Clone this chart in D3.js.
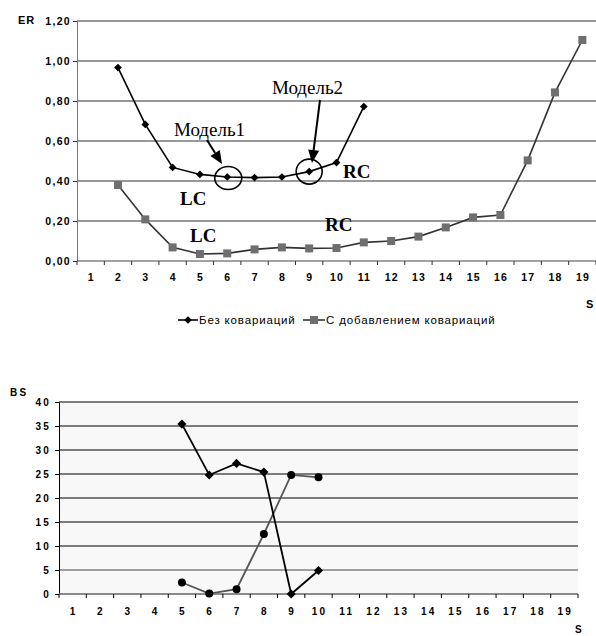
<!DOCTYPE html>
<html>
<head>
<meta charset="utf-8">
<script src="https://cdn.jsdelivr.net/npm/d3@7"></script>
<style>
  html, body { margin: 0; padding: 0; background: #fff; }
  svg { display: block; }
  .tick text { font-family: Arial, "Liberation Sans", sans-serif; font-weight: bold; fill: #000; }
</style>
</head>
<body>
<svg id="chart" width="596" height="636"></svg>
<script>
// ---- Data ----
const sValues = d3.range(1, 20);                    // S = 1..19

// Top chart: ER
const erNoCovS   = [2, 3, 4, 5, 6, 7, 8, 9, 10, 11];
const erNoCov    = [0.967, 0.683, 0.468, 0.433, 0.420, 0.417, 0.420, 0.447, 0.492, 0.772];
const erCovS     = [2, 3, 4, 5, 6, 7, 8, 9, 10, 11, 12, 13, 14, 15, 16, 17, 18, 19];
const erCov      = [0.380, 0.208, 0.068, 0.035, 0.038, 0.058, 0.068, 0.063, 0.065, 0.093, 0.100, 0.122, 0.168, 0.218, 0.230, 0.503, 0.843, 1.105];
const erTicks    = [0, 0.2, 0.4, 0.6, 0.8, 1.0, 1.2];
const legendLabels = ["Без ковариаций", "С добавлением ковариаций"];

// Bottom chart: BS
const bsS        = [5, 6, 7, 8, 9, 10];
const bsA        = [35.4, 24.8, 27.2, 25.4, 0.0, 4.9];
const bsB        = [2.4, 0.1, 1.0, 12.5, 24.8, 24.3];
const bsTicks    = [0, 5, 10, 15, 20, 25, 30, 35, 40];

const svg = d3.select("#chart");
const fmtComma = d => d3.format(".2f")(d).replace(".", ",");
const sans = "Arial, 'Liberation Sans', sans-serif";
const serif = "'Liberation Serif', 'Times New Roman', serif";

// diamond = square turned by 45 degrees
const diamondPath = area => d3.symbol().type(d3.symbolSquare).size(area)();
const placeDiamond = d => `translate(${d[0]},${d[1]}) rotate(45)`;

// ================= Top chart =================
const erBox = { left: 77, right: 596, top: 21, bottom: 261 };
const x1 = d3.scaleBand().domain(sValues).range([erBox.left, erBox.right]);
const y1 = d3.scaleLinear().domain([0, 1.2]).range([erBox.bottom, erBox.top]);

// gridlines
svg.append("g").selectAll("line").data(erTicks.filter(d => d > 0)).join("line")
  .attr("x1", erBox.left).attr("x2", erBox.right)
  .attr("y1", d => y1(d)).attr("y2", d => y1(d))
  .attr("stroke", "#333").attr("stroke-width", 1);

// y axis
const yAx1 = svg.append("g").attr("transform", `translate(${erBox.left},0)`)
  .call(d3.axisLeft(y1).tickValues(erTicks).tickFormat(fmtComma).tickSize(4).tickPadding(2));
yAx1.select(".domain").attr("stroke", "#777");
yAx1.selectAll(".tick line").attr("stroke", "#333");
yAx1.selectAll(".tick text").attr("font-size", 10.5).attr("letter-spacing", 1.3);

// x axis (ticks between categories)
const xAx1 = svg.append("g").attr("transform", `translate(0,${erBox.bottom})`);
xAx1.append("line").attr("x1", erBox.left).attr("x2", erBox.right).attr("stroke", "#444");
xAx1.selectAll("line.tk").data(d3.range(0, 20)).join("line").attr("class", "tk")
  .attr("x1", i => erBox.left + i * x1.step()).attr("x2", i => erBox.left + i * x1.step())
  .attr("y1", 0).attr("y2", 4).attr("stroke", "#333");
xAx1.selectAll("text").data(sValues).join("text")
  .attr("x", d => x1(d) + x1.bandwidth() / 2 + 0.6).attr("y", 20)
  .attr("text-anchor", "middle")
  .attr("font-family", sans).attr("font-weight", "bold").attr("letter-spacing", 1.2)
  .attr("font-size", 10.5).text(d => d);

svg.append("text").attr("x", 18).attr("y", 24)
  .attr("font-family", sans).attr("font-weight", "bold").attr("letter-spacing", 0.8)
  .attr("font-size", 11).text("ER");
svg.append("text").attr("x", 586).attr("y", 308)
  .attr("font-family", sans).attr("font-weight", "bold")
  .attr("font-size", 11).text("S");

const cx1 = s => x1(s) + x1.bandwidth() / 2;

// series with covariances (gray squares)
const covPts = erCovS.map((s, i) => [cx1(s), y1(erCov[i])]);
svg.append("path").attr("d", d3.line()(covPts))
  .attr("fill", "none").attr("stroke", "#333").attr("stroke-width", 1.6);
svg.append("g").selectAll("rect").data(covPts).join("rect")
  .attr("x", d => d[0] - 4).attr("y", d => d[1] - 4).attr("width", 8).attr("height", 8)
  .attr("fill", "#6f6f6f");

// series without covariances (black diamonds)
const noCovPts = erNoCovS.map((s, i) => [cx1(s), y1(erNoCov[i])]);
svg.append("path").attr("d", d3.line()(noCovPts))
  .attr("fill", "none").attr("stroke", "#000").attr("stroke-width", 1.6);
svg.append("g").selectAll("path").data(noCovPts).join("path")
  .attr("transform", placeDiamond).attr("d", diamondPath(30)).attr("fill", "#000");

// annotations
function arrow(xa, ya, xb, yb) {
  const ang = Math.atan2(yb - ya, xb - xa);
  const L = 13, W = 5.5;
  const bx = xb - L * Math.cos(ang), by = yb - L * Math.sin(ang);
  svg.append("line").attr("x1", xa).attr("y1", ya).attr("x2", bx).attr("y2", by)
    .attr("stroke", "#000").attr("stroke-width", 2);
  svg.append("path").attr("d",
      `M${xb},${yb}L${bx + W * Math.sin(ang)},${by - W * Math.cos(ang)}L${bx - W * Math.sin(ang)},${by + W * Math.cos(ang)}Z`)
    .attr("fill", "#000");
}
const m1 = noCovPts[erNoCovS.indexOf(6)];
const m2 = noCovPts[erNoCovS.indexOf(9)];
svg.append("ellipse").attr("cx", m1[0] + 1).attr("cy", m1[1] + 1).attr("rx", 13.5).attr("ry", 11.5)
  .attr("fill", "none").attr("stroke", "#000").attr("stroke-width", 1.6);
svg.append("ellipse").attr("cx", m2[0]).attr("cy", m2[1]).attr("rx", 13).attr("ry", 12.5)
  .attr("fill", "none").attr("stroke", "#000").attr("stroke-width", 1.6);
arrow(207, 140, 222, 164);
arrow(320, 100, 312, 163);
svg.append("text").attr("x", 174).attr("y", 136).attr("font-family", serif)
  .attr("font-size", 19).text("Модель1");
svg.append("text").attr("x", 272).attr("y", 94).attr("font-family", serif)
  .attr("font-size", 19).text("Модель2");
[["LC", 180, 205], ["LC", 190, 242], ["RC", 343, 178], ["RC", 325, 231]].forEach(([t, x, y]) => {
  svg.append("text").attr("x", x).attr("y", y).attr("font-family", serif)
    .attr("font-weight", "bold").attr("font-size", 19).text(t);
});

// legend
const lg = svg.append("g").attr("font-family", sans).attr("font-size", 11.5);
lg.append("line").attr("x1", 178).attr("x2", 198).attr("y1", 320).attr("y2", 320).attr("stroke", "#000").attr("stroke-width", 1.6);
lg.append("path").attr("transform", placeDiamond([188, 320])).attr("d", diamondPath(30)).attr("fill", "#000");
lg.append("text").attr("x", 199).attr("y", 324).attr("letter-spacing", 0.85).text(legendLabels[0]);
lg.append("line").attr("x1", 303).attr("x2", 325).attr("y1", 320).attr("y2", 320).attr("stroke", "#333").attr("stroke-width", 1.6);
lg.append("rect").attr("x", 310).attr("y", 316).attr("width", 8).attr("height", 8).attr("fill", "#6f6f6f");
lg.append("text").attr("x", 326).attr("y", 324).attr("letter-spacing", 0.85).text(legendLabels[1]);

// ================= Bottom chart =================
const bsBox = { left: 59, right: 578, top: 402, bottom: 594 };
const x2 = d3.scaleBand().domain(sValues).range([bsBox.left, bsBox.right]);
const y2 = d3.scaleLinear().domain([0, 40]).range([bsBox.bottom, bsBox.top]);

svg.append("rect").attr("x", bsBox.left).attr("y", bsBox.top)
  .attr("width", bsBox.right - bsBox.left).attr("height", bsBox.bottom - bsBox.top).attr("fill", "#f8f8f8");
svg.append("g").selectAll("line").data(bsTicks.filter(d => d > 0)).join("line")
  .attr("x1", bsBox.left).attr("x2", bsBox.right)
  .attr("y1", d => y2(d)).attr("y2", d => y2(d))
  .attr("stroke", d => d <= 5 ? "#444" : "#000").attr("stroke-width", 1);

const yAx2 = svg.append("g").attr("transform", `translate(${bsBox.left},0)`)
  .call(d3.axisLeft(y2).tickValues(bsTicks).tickSize(4).tickPadding(4));
yAx2.select(".domain").attr("stroke", "#000");
yAx2.selectAll(".tick line").attr("stroke", "#000");
yAx2.selectAll(".tick text").attr("font-size", 10).attr("letter-spacing", 2.2);

const xAx2 = svg.append("g").attr("transform", `translate(0,${bsBox.bottom})`);
xAx2.append("line").attr("x1", bsBox.left).attr("x2", bsBox.right).attr("stroke", "#666").attr("stroke-width", 1.5);
xAx2.selectAll("line.tk").data(d3.range(0, 20)).join("line").attr("class", "tk")
  .attr("x1", i => bsBox.left + i * x2.step()).attr("x2", i => bsBox.left + i * x2.step())
  .attr("y1", 0).attr("y2", 4).attr("stroke", "#000");
xAx2.selectAll("text").data(sValues).join("text")
  .attr("x", d => x2(d) + x2.bandwidth() / 2 + 1).attr("y", 21)
  .attr("text-anchor", "middle")
  .attr("font-family", sans).attr("font-weight", "bold")
  .attr("font-size", 10).attr("letter-spacing", 2.2).text(d => d);

svg.append("text").attr("x", 10).attr("y", 396)
  .attr("font-family", sans).attr("font-weight", "bold")
  .attr("font-size", 10).attr("letter-spacing", 2.2).text("BS");
svg.append("text").attr("x", 575).attr("y", 633)
  .attr("font-family", sans).attr("font-weight", "bold")
  .attr("font-size", 10).text("S");

const cx2 = s => x2(s) + x2.bandwidth() / 2;
const bPts = bsS.map((s, i) => [cx2(s), y2(bsB[i])]);
svg.append("path").attr("d", d3.line()(bPts)).attr("fill", "none").attr("stroke", "#555").attr("stroke-width", 1.8);
svg.append("g").selectAll("circle").data(bPts).join("circle")
  .attr("cx", d => d[0]).attr("cy", d => d[1]).attr("r", 4).attr("fill", "#000");

const aPts = bsS.map((s, i) => [cx2(s), y2(bsA[i])]);
svg.append("path").attr("d", d3.line()(aPts)).attr("fill", "none").attr("stroke", "#000").attr("stroke-width", 1.8);
svg.append("g").selectAll("path").data(aPts).join("path")
  .attr("transform", placeDiamond).attr("d", diamondPath(42)).attr("fill", "#000");
</script>
</body>
</html>
